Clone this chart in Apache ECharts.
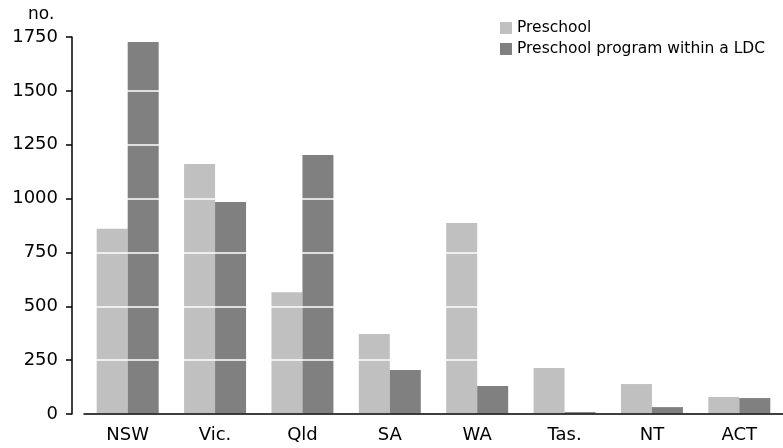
<!DOCTYPE html>
<html>
<head>
<meta charset="utf-8">
<script src="https://cdn.jsdelivr.net/npm/echarts@6/dist/echarts.min.js"></script>
<style>html,body{margin:0;padding:0;background:#fff}#c{width:783px;height:448px}</style>
</head>
<body>
<div id="c"></div>
<script>
const categories = ['NSW', 'Vic.', 'Qld', 'SA', 'WA', 'Tas.', 'NT', 'ACT'];
const preschool = [860, 1160, 565, 371, 887, 213, 139, 79];
const preschoolLDC = [1727, 984, 1202, 204, 130, 9, 32, 74];
const yTicks = { min: 0, max: 1750, interval: 250 };
const seriesNames = ['Preschool', 'Preschool program within a LDC'];

const chart = echarts.init(document.getElementById('c'), null, { renderer: 'canvas' });
const font = 'DejaVu Sans';
chart.setOption({
  animation: false,
  textStyle: { fontFamily: font },
  grid: { left: 84, right: -8, top: 37, bottom: 34, containLabel: false },
  graphic: [{
    type: 'text', left: 28, top: 6,
    style: { text: 'no.', font: '17px "DejaVu Sans"', fill: '#000' }
  }],
  legend: {
    orient: 'vertical', left: 500, top: 20, padding: 0,
    itemWidth: 12, itemHeight: 12, itemGap: 5, itemTextGap: 7,
    icon: 'rect',
    textStyle: { fontSize: 15.5, lineHeight: 16, color: '#000', fontFamily: font },
    data: seriesNames
  },
  xAxis: {
    type: 'category', data: categories, z: 6,
    axisLine: { lineStyle: { color: '#000', width: 1.5 } },
    axisTick: { alignWithLabel: true, length: 6, lineStyle: { color: '#000', width: 1.5 } },
    axisLabel: { color: '#000', fontSize: 18, margin: 12, fontFamily: font }
  },
  yAxis: {
    type: 'value', min: yTicks.min, max: yTicks.max, interval: yTicks.interval,
    offset: 12, z: 5,
    axisLine: { show: true, lineStyle: { color: '#000', width: 1.5 } },
    axisTick: { show: true, length: 6, lineStyle: { color: '#000', width: 1.5 } },
    axisLabel: { color: '#000', fontSize: 18, margin: 14, fontFamily: font,
      formatter: function (v) { return String(v); } },
    splitLine: { show: true, lineStyle: { color: '#fff', width: 1.5 } }
  },
  series: [
    { name: seriesNames[0], type: 'bar', data: preschool, barWidth: 31, barGap: '0%',
      itemStyle: { color: '#c0c0c0' } },
    { name: seriesNames[1], type: 'bar', data: preschoolLDC, barWidth: 31, barGap: '0%',
      itemStyle: { color: '#808080' } }
  ]
});
</script>
</body>
</html>
